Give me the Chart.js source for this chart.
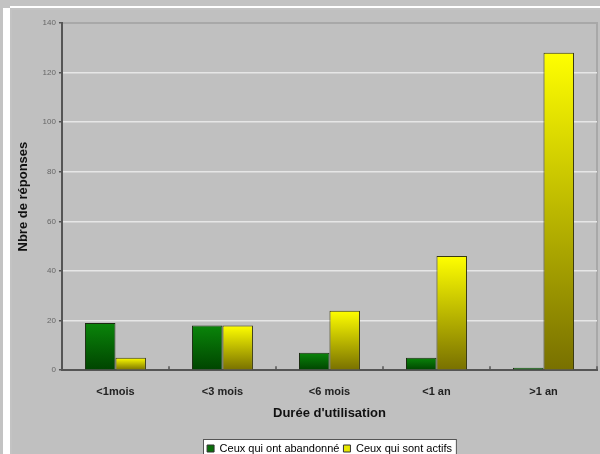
<!DOCTYPE html>
<html>
<head>
<meta charset="utf-8">
<script src="https://cdn.jsdelivr.net/npm/chart.js@4"></script>
<style>
  html, body { margin: 0; padding: 0; background: #c3c3c3; }
  body { width: 600px; height: 454px; position: relative; overflow: hidden; }
  .strip { position: absolute; left: 3px; top: 8px; width: 7px; height: 446px; background: #fff; }
  .topline { position: absolute; left: 10px; top: 6px; width: 590px; height: 2px; background: #fff; }
  .wrap { position: absolute; left: 12px; top: 10px; width: 588px; height: 454px; background: #c0c0c0; }
</style>
</head>
<body>
<div class="strip"></div>
<div class="topline"></div>
<div class="wrap"><canvas id="myChart" width="588" height="454"></canvas></div>
<script>
const categories = ['<1mois', '<3 mois', '<6 mois', '<1 an', '>1 an'];
const abandonne = [19, 18, 7, 5, 1];
const actifs = [5, 18, 24, 46, 128];
const seriesNames = ['Ceux qui ont abandonné', 'Ceux qui sont actifs'];
const legendColors = ['#0a6e0a', '#e8e800'];

const font = "'Liberation Sans', Arial, sans-serif";

// gradient per bar, light at the top, dark at the bottom
function grad(light, dark) {
  return (c) => {
    const chart = c.chart;
    if (!chart.chartArea || c.raw == null) return light;
    const y = chart.scales.y;
    const top = y.getPixelForValue(c.raw);
    const bottom = y.getPixelForValue(0);
    const g = chart.ctx.createLinearGradient(0, top, 0, bottom);
    g.addColorStop(0, light);
    g.addColorStop(1, dark);
    return g;
  };
}

const frame = {
  id: 'frame',
  afterLayout(chart) {
    // center the legend under the plot, not under the whole canvas
    const l = chart.legend;
    const a = chart.chartArea;
    const off = Math.round((a.left + a.right) / 2 - (l.left + l.right) / 2);
    l.left += off;
    l.right += off;
    l.legendHitBoxes.forEach(b => { b.left += off; });
  },
  beforeDraw(chart) {
    const ctx = chart.ctx;
    const a = chart.chartArea;
    // white legend box around the items
    const boxes = chart.legend.legendHitBoxes;
    const left = Math.min(...boxes.map(b => b.left)) - 4;
    const right = Math.max(...boxes.map(b => b.left + b.width)) + 4;
    const top = Math.min(...boxes.map(b => b.top)) - 4;
    ctx.save();
    ctx.fillStyle = '#fff';
    ctx.strokeStyle = '#555';
    ctx.lineWidth = 1;
    ctx.fillRect(Math.round(left) + 0.5, Math.round(top) + 0.5, right - left, 40);
    ctx.strokeRect(Math.round(left) + 0.5, Math.round(top) + 0.5, right - left, 40);
    // top and right border of plot
    ctx.strokeStyle = '#a8a8a8';
    ctx.lineWidth = 2;
    ctx.beginPath();
    ctx.moveTo(a.left, a.top);
    ctx.lineTo(a.right, a.top);
    ctx.lineTo(a.right, a.bottom);
    ctx.stroke();
    ctx.restore();
  },
  afterDatasetsDraw(chart) {
    // small inside ticks between categories
    const ctx = chart.ctx;
    const x = chart.scales.x;
    const a = chart.chartArea;
    ctx.save();
    ctx.strokeStyle = '#555';
    ctx.lineWidth = 1.5;
    for (let i = 0; i <= categories.length; i++) {
      const px = Math.round(x.getPixelForValue(i - 0.5));
      ctx.beginPath();
      ctx.moveTo(px, a.bottom);
      ctx.lineTo(px, a.bottom - 4);
      ctx.stroke();
    }
    ctx.restore();
  }
};

const ctx = document.getElementById('myChart');
const myChart = new Chart(ctx, {
  type: 'bar',
  data: {
    labels: categories,
    datasets: [{
      label: seriesNames[0],
      data: abandonne,
      backgroundColor: grad('#0a850a', '#004400'),
      borderColor: '#1a2a10',
      borderWidth: 1,
      borderSkipped: 'bottom'
    }, {
      label: seriesNames[1],
      data: actifs,
      backgroundColor: grad('#ffff00', '#787000'),
      borderColor: '#3a3a10',
      borderWidth: 1,
      borderSkipped: 'bottom'
    }]
  },
  plugins: [frame],
  options: {
    responsive: false,
    animation: false,
    devicePixelRatio: 1,
    layout: { padding: { left: 4, right: 3, top: 13, bottom: 0 } },
    datasets: { bar: { categoryPercentage: 0.57, barPercentage: 1 } },
    plugins: {
      tooltip: { enabled: false },
      legend: {
        position: 'bottom',
        labels: {
          font: { family: font, size: 11 },
          color: '#111',
          boxWidth: 7,
          boxHeight: 7,
          padding: 4,
          generateLabels: (chart) => seriesNames.map((n, i) => ({
            text: n,
            fillStyle: legendColors[i],
            strokeStyle: '#333',
            lineWidth: 1,
            datasetIndex: i,
            hidden: false
          }))
        }
      }
    },
    scales: {
      x: {
        grid: { display: false },
        border: { color: '#555', width: 2 },
        ticks: { font: { family: font, size: 11, weight: 'bold' }, color: '#222', padding: 7 },
        title: {
          display: true,
          text: "Durée d'utilisation",
          font: { family: font, size: 13, weight: 'bold' },
          color: '#111',
          padding: { top: 0, bottom: 18 }
        }
      },
      y: {
        min: 0,
        max: 140,
        ticks: { stepSize: 20, font: { family: font, size: 8 }, color: '#666', padding: 3 },
        grid: {
          color: (c) => (c.tick.value === 0 || c.tick.value === 140) ? 'rgba(0,0,0,0)' : '#e6e6e6',
          lineWidth: 1.5,
          tickColor: '#555',
          tickLength: 3
        },
        border: { color: '#555', width: 2 },
        title: {
          display: true,
          text: 'Nbre de réponses',
          font: { family: font, size: 13, weight: 'bold' },
          color: '#111',
          padding: { top: 0, bottom: 8 }
        }
      }
    }
  }
});
</script>
</body>
</html>
